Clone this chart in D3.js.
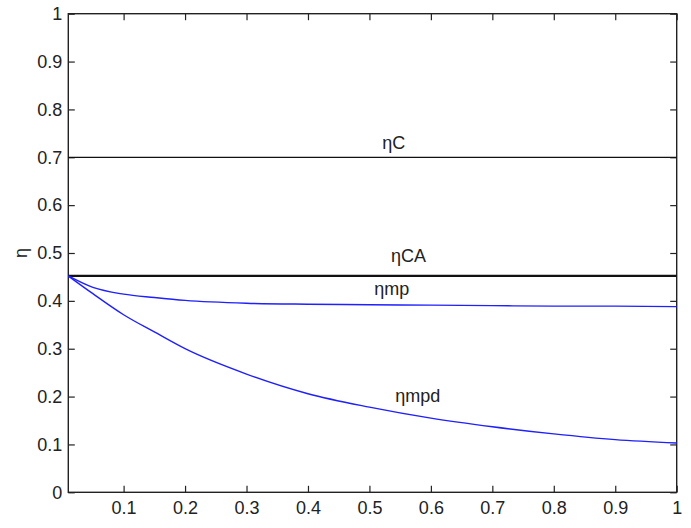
<!DOCTYPE html>
<html>
<head>
<meta charset="utf-8">
<script src="https://cdn.jsdelivr.net/npm/d3@7"></script>
<style>
  html, body { margin: 0; padding: 0; background: #fff; }
  svg { display: block; }
  text { font-family: "Liberation Sans", Arial, Helvetica, sans-serif; fill: #222; }
</style>
</head>
<body>
<div id="chart"></div>
<script>
// Efficiency curves versus the parameter on the x axis
const xVals  = [0.01, 0.05, 0.1, 0.15, 0.2, 0.3, 0.4, 0.5, 0.6, 0.7, 0.8, 0.9, 1.0];
const etaMp  = [0.452, 0.428, 0.414, 0.407, 0.401, 0.395, 0.393, 0.392, 0.391, 0.390, 0.389, 0.389, 0.388];
const etaMpd = [0.452, 0.415, 0.371, 0.335, 0.300, 0.247, 0.206, 0.178, 0.155, 0.137, 0.122, 0.110, 0.103];
const etaC   = 0.7;     // Carnot efficiency
const etaCA  = 0.4523;  // Curzon-Ahlborn efficiency, 1 - sqrt(1 - etaC)

const xTicks = [0.1, 0.2, 0.3, 0.4, 0.5, 0.6, 0.7, 0.8, 0.9, 1];
const yTicks = [0, 0.1, 0.2, 0.3, 0.4, 0.5, 0.6, 0.7, 0.8, 0.9, 1];
const xTickLabels = ["0.1", "0.2", "0.3", "0.4", "0.5", "0.6", "0.7", "0.8", "0.9", "1"];
const yTickLabels = ["0", "0.1", "0.2", "0.3", "0.4", "0.5", "0.6", "0.7", "0.8", "0.9", "1"];

// Curve labels: text and anchor position in data units
const labelText = ["ηC", "ηCA", "ηmp", "ηmpd"];
const labelX    = [0.521, 0.535, 0.508, 0.542];
const labelY    = [0.717, 0.482, 0.412, 0.189];

const W = 691, H = 528;
const L = 68.3, R = 676.7, T = 13.7, B = 492.3;
const fontSize = 18, tickLen = 6.5;

const svg = d3.select("#chart").append("svg")
  .attr("width", W).attr("height", H);

const x = d3.scaleLinear().domain([0.01, 1]).range([L, R]);
const y = d3.scaleLinear().domain([0, 1]).range([B, T]);

// Axes with inward ticks on all four sides
function styleAxis(g) {
  g.select(".domain").remove();
  g.selectAll(".tick line").attr("stroke", "#222").attr("stroke-width", 1.2);
  g.selectAll(".tick text")
    .attr("font-size", fontSize)
    .attr("font-family", "Liberation Sans, Arial, sans-serif")
    .attr("fill", "#222");
}

svg.append("g").attr("transform", `translate(0,${B})`)
  .call(d3.axisBottom(x).tickValues(xTicks)
    .tickFormat((d, i) => xTickLabels[i])
    .tickSizeInner(-tickLen).tickSizeOuter(0).tickPadding(9))
  .call(styleAxis)
  .call(g => g.selectAll(".tick text").attr("dy", "0.71em"));

svg.append("g").attr("transform", `translate(${L},0)`)
  .call(d3.axisLeft(y).tickValues(yTicks)
    .tickFormat((d, i) => yTickLabels[i])
    .tickSizeInner(-tickLen).tickSizeOuter(0).tickPadding(6))
  .call(styleAxis);

svg.append("g").attr("transform", `translate(0,${T})`)
  .call(d3.axisTop(x).tickValues(xTicks).tickFormat("")
    .tickSizeInner(-tickLen).tickSizeOuter(0))
  .call(styleAxis);

svg.append("g").attr("transform", `translate(${R},0)`)
  .call(d3.axisRight(y).tickValues(yTicks).tickFormat("")
    .tickSizeInner(-tickLen).tickSizeOuter(0))
  .call(styleAxis);

// Plot box
svg.append("rect")
  .attr("x", x(0.01)).attr("y", y(1))
  .attr("width", x(1) - x(0.01)).attr("height", y(0) - y(1))
  .attr("fill", "none").attr("stroke", "#222").attr("stroke-width", 1.4);

// Constant efficiency levels
svg.append("line")
  .attr("x1", x(0.01)).attr("x2", x(1))
  .attr("y1", y(etaC)).attr("y2", y(etaC))
  .attr("stroke", "#111").attr("stroke-width", 1.3);

svg.append("line")
  .attr("x1", x(0.01)).attr("x2", x(1))
  .attr("y1", y(etaCA)).attr("y2", y(etaCA))
  .attr("stroke", "#111").attr("stroke-width", 2.4);

// Blue efficiency curves
const line = d3.line()
  .x((d, i) => x(xVals[i]))
  .y(d => y(d))
  .curve(d3.curveMonotoneX);

[etaMp, etaMpd].forEach(series => {
  svg.append("path")
    .attr("d", line(series))
    .attr("fill", "none")
    .attr("stroke", "#1f1fff")
    .attr("stroke-width", 1.4);
});

// Curve labels
labelText.forEach((t, i) => {
  svg.append("text")
    .attr("x", x(labelX[i])).attr("y", y(labelY[i]))
    .attr("font-size", fontSize)
    .text(t);
});

// Y axis label
svg.append("text")
  .attr("transform", `translate(27,${(T + B) / 2}) rotate(-90)`)
  .attr("text-anchor", "middle")
  .attr("font-size", fontSize)
  .text("η");
</script>
</body>
</html>
